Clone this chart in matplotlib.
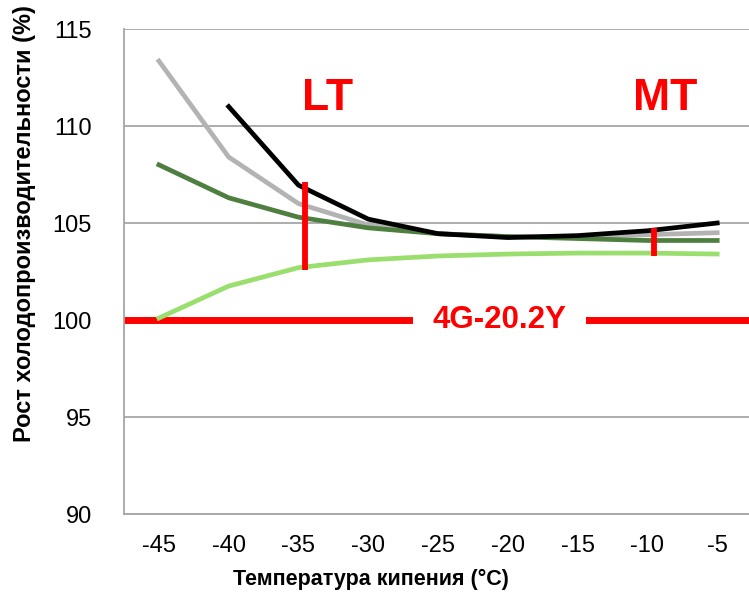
import matplotlib.pyplot as plt

plt.rcParams['font.family'] = ['Liberation Sans', 'DejaVu Sans']
plt.rcParams['axes.unicode_minus'] = False

temps = [-45, -40, -35, -30, -25, -20, -15, -10, -5]
light_green = [100.1, 101.75, 102.7, 103.1, 103.3, 103.4, 103.45, 103.45, 103.4]
dark_green = [108.0, 106.3, 105.3, 104.75, 104.45, 104.3, 104.2, 104.1, 104.1]
gray = [113.35, 108.4, 106.0, 104.9, 104.45, 104.3, 104.3, 104.4, 104.5]
black_t = [-40, -35, -30, -25, -20, -15, -10, -5]
black = [111.0, 106.95, 105.2, 104.45, 104.25, 104.35, 104.6, 105.0]

lt_mark = (-34.5, 102.6, 107.1)
mt_mark = (-9.5, 103.3, 104.75)

fig = plt.figure(figsize=(7.49, 5.97), dpi=100)
ax = fig.add_axes([0.1656, 0.139, 0.8385, 0.8124])

ax.axhline(100, color='#ff0000', lw=5, zorder=2)
ax.text(-20.6, 100, '4G-20.2Y', color='#ff0000', fontsize=22.5, fontweight='bold',
        ha='center', va='center', zorder=3,
        bbox=dict(facecolor='white', edgecolor='none', pad=14))

ax.plot(temps, light_green, color='#9ade6e', lw=3.4, zorder=4)
ax.plot(temps, gray, color='#b3b3b3', lw=3.4, zorder=4)
ax.plot(temps, dark_green, color='#4f7f40', lw=3.4, zorder=5)
ax.plot(black_t, black, color='black', lw=3.4, zorder=6)

ax.vlines(lt_mark[0], lt_mark[1], lt_mark[2], color='#ff0000', lw=4.2, zorder=7)
ax.vlines(mt_mark[0], mt_mark[1], mt_mark[2], color='#ff0000', lw=4.2, zorder=7)
ax.text(-32.9, 111.4, 'LT', color='#ff0000', fontsize=32, fontweight='bold', ha='center', va='center')
ax.text(-8.75, 111.4, 'MT', color='#ff0000', fontsize=32, fontweight='bold', ha='center', va='center')

ax.set_xlim(-47.5, -2.5)
ax.set_ylim(90, 115)
ax.set_xticks(temps)
ax.set_yticks([90, 95, 100, 105, 110, 115])
ax.grid(axis='y', color='#a6a6a6', lw=1.3, zorder=0)
ax.tick_params(length=0, labelsize=17)
ax.tick_params(axis='y', pad=23)
ax.tick_params(axis='x', pad=15)
for s in ['top', 'right']:
    ax.spines[s].set_visible(False)
for s in ['left', 'bottom']:
    ax.spines[s].set_color('#a6a6a6')
    ax.spines[s].set_linewidth(1.3)

ax.set_xlabel('Температура кипения (°C)', fontsize=15.5, fontweight='bold')
ax.set_ylabel('Рост холодопроизводительности (%)', fontsize=17, fontweight='bold')
ax.xaxis.set_label_coords(0.393, -0.113)
ax.yaxis.set_label_coords(-0.14, 0.598)

fig.savefig('out.png', dpi=100)
